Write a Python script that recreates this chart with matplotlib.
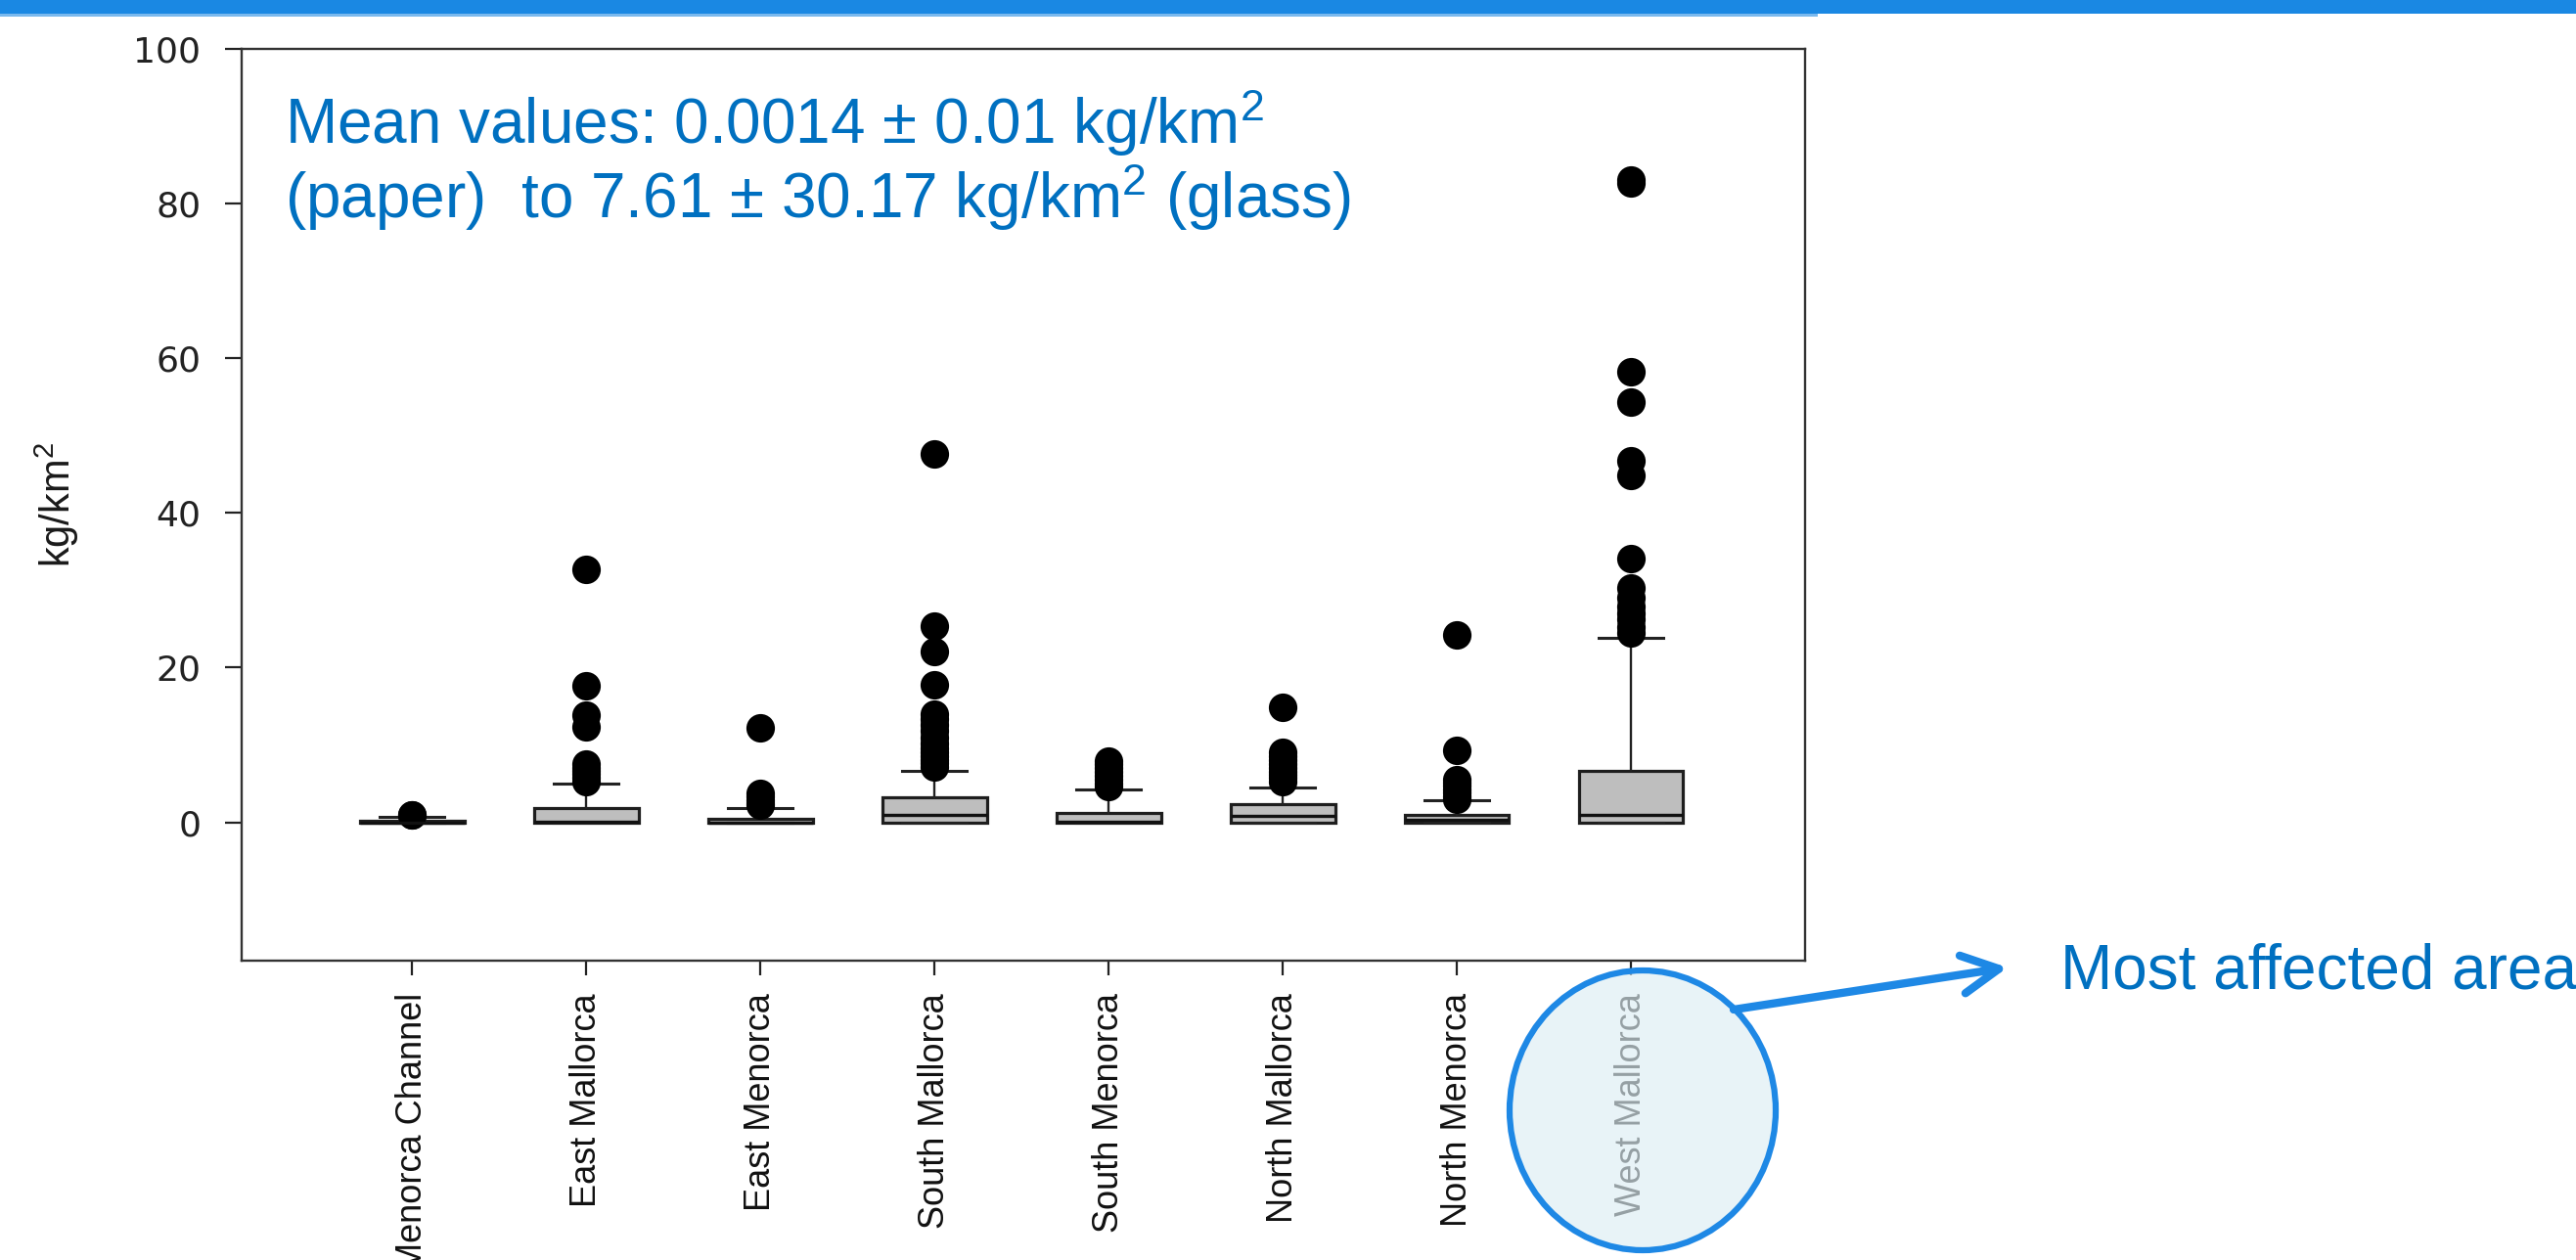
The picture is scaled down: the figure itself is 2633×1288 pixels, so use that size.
import matplotlib
matplotlib.use("Agg")
import matplotlib.pyplot as plt
from matplotlib.patches import Ellipse, Rectangle

plt.rcParams["mathtext.fontset"] = "custom"
plt.rcParams["mathtext.rm"] = "Liberation Sans"
plt.rcParams["mathtext.it"] = "Liberation Sans:italic"
plt.rcParams["mathtext.bf"] = "Liberation Sans:bold"

# ---------------- data ----------------
categories = ["Menorca Channel", "East Mallorca", "East Menorca", "South Mallorca",
              "South Menorca", "North Mallorca", "North Menorca", "West Mallorca"]
medians = [0.0, 0.05, 0.0, 0.95, 0.05, 0.76, 0.35, 0.9]
q1s = [0.0, 0.0, 0.0, 0.0, 0.0, 0.0, 0.0, 0.0]
q3s = [0.15, 1.8, 0.45, 3.2, 1.25, 2.3, 1.0, 6.7]
whisker_low = [0.0, 0.0, 0.0, 0.0, 0.0, 0.0, 0.0, 0.0]
whisker_high = [0.7, 5.0, 1.8, 6.7, 4.2, 4.5, 2.8, 23.9]
outliers = [
    [0.9, 1.0],
    [5.3, 5.7, 6.2, 6.6, 7.0, 7.5, 12.3, 13.9, 17.7, 32.7],
    [2.2, 2.5, 2.9, 3.3, 3.7, 12.2],
    [7.2, 7.6, 8.0, 8.5, 9.0, 9.6, 10.2, 11.0, 11.8, 12.6, 13.3, 14.0, 17.8, 22.1, 25.4, 47.6],
    [4.6, 5.0, 5.5, 6.0, 6.5, 7.0, 7.5, 7.9],
    [5.3, 5.7, 6.1, 6.5, 7.0, 7.5, 8.0, 8.6, 9.1, 14.9],
    [3.0, 3.4, 3.8, 4.2, 4.7, 5.1, 5.5, 9.3, 24.2],
    [24.5, 25.2, 26.2, 27.0, 27.9, 29.0, 30.3, 34.1, 44.8, 46.8, 54.3, 58.2, 82.7, 83.1],
]
y_ticks = [0, 20, 40, 60, 80, 100]
y_label = r"kg/km$\mathregular{^2}$"
note_line1 = r"Mean values: 0.0014 ± 0.01 kg/km$\mathregular{^2}$"
note_line2 = r"(paper)  to 7.61 ± 30.17 kg/km$\mathregular{^2}$ (glass)"
callout = "Most affected area"

# ---------------- figure ----------------
W, H = 2633, 1288
fig = plt.figure(figsize=(W / 100, H / 100), dpi=100)
fig.patch.set_facecolor("white")

left, right, top, bottom = 247, 1845, 50, 982
ax = fig.add_axes([left / W, (H - bottom) / H, (right - left) / W, (bottom - top) / H])

stats = []
for c, m, a, b, lo, hi, f in zip(categories, medians, q1s, q3s, whisker_low, whisker_high, outliers):
    stats.append(dict(label=c, med=m, q1=a, q3=b, whislo=lo, whishi=hi, fliers=f))

positions = list(range(1, len(categories) + 1))
ax.bxp(stats, positions=positions, widths=0.6, capwidths=0.37, patch_artist=True,
       boxprops=dict(facecolor="#bebebe", edgecolor="#1e1e1e", linewidth=2.3),
       medianprops=dict(color="#111111", linewidth=2.4),
       whiskerprops=dict(color="#222222", linewidth=1.7),
       capprops=dict(color="#222222", linewidth=2.2),
       flierprops=dict(marker="o", markerfacecolor="black", markeredgecolor="black",
                       markersize=21, markeredgewidth=0))

ax.set_xlim(0.02, 9.0)
ax.set_ylim(-17.9, 100)
ax.set_xticks(positions)
ax.set_xticklabels(categories, rotation=90, fontsize=26, family="Liberation Sans",
                   color="#111111")
ax.set_yticks(y_ticks)
ax.set_yticklabels([str(v) for v in y_ticks], fontsize=26, family="DejaVu Sans",
                   color="#222222")
ax.tick_params(axis="x", length=11, width=1.6, pad=13, color="#222222")
ax.tick_params(axis="y", length=12, width=1.6, pad=18, color="#222222")
for s in ax.spines.values():
    s.set_linewidth(1.7)
    s.set_color("#333333")

# ---------------- overlay (pixel coordinates) ----------------
ov = fig.add_axes([0, 0, 1, 1], zorder=10)
ov.set_xlim(0, W)
ov.set_ylim(H, 0)
ov.axis("off")
ov.patch.set_alpha(0)

ov.add_patch(Rectangle((0, 0), W, 14, facecolor="#1a88e3", edgecolor="none"))
ov.add_patch(Rectangle((0, 14), 1858, 2.5, facecolor="#7ab9ee", edgecolor="none"))

ov.text(58, 516, y_label, rotation=90, ha="center", va="center", fontsize=30,
        family="Liberation Sans", color="#1a1a1a")

ov.text(291, 147, note_line1, ha="left", va="baseline", fontsize=46,
        family="Liberation Sans", color="#0070c0")
ov.text(291, 223, note_line2, ha="left", va="baseline", fontsize=46,
        family="Liberation Sans", color="#0070c0")

ov.add_patch(Ellipse((1679, 1135), 272, 286, facecolor="#ddedf3", alpha=0.65,
                     edgecolor="none"))
ov.add_patch(Ellipse((1679, 1135), 272, 286, facecolor="none",
                     edgecolor="#1e88e5", linewidth=4.5))

ov.annotate("", xy=(2052, 989), xytext=(1772, 1032),
            arrowprops=dict(arrowstyle="->,head_length=2.7,head_width=1.4",
                            mutation_scale=10, lw=6, color="#1e88e5",
                            shrinkA=0, shrinkB=0))

ov.text(2106, 1010, callout, ha="left", va="baseline", fontsize=46,
        family="Liberation Sans", color="#0070c0")

fig.savefig("out.png", dpi=100)
